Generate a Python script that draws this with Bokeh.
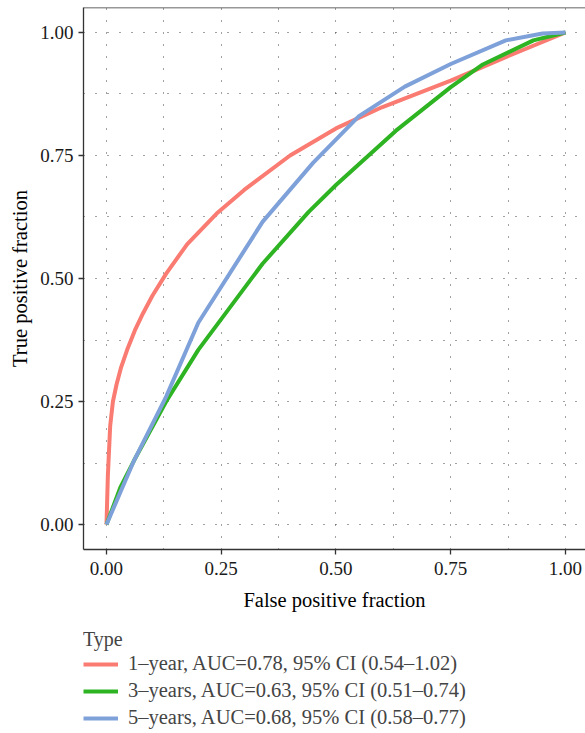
from bokeh.plotting import figure
from bokeh.layouts import column
from bokeh.models import Range1d, FixedTicker, Legend, LegendItem, Span
from bokeh.embed import file_html
from bokeh.resources import INLINE

# ROC curves
fpr_1y = [0.0, 0.003, 0.008, 0.014, 0.022, 0.032, 0.045, 0.062, 0.08, 0.1, 0.13, 0.176, 0.24, 0.3, 0.4, 0.5, 0.6, 0.75, 0.87, 1.0]
tpr_1y = [0.0, 0.10, 0.20, 0.25, 0.285, 0.32, 0.355, 0.395, 0.43, 0.465, 0.51, 0.57, 0.632, 0.68, 0.75, 0.805, 0.848, 0.902, 0.95, 1.0]

fpr_3y = [0.0, 0.03, 0.06, 0.13, 0.2, 0.34, 0.44, 0.5, 0.63, 0.75, 0.82, 0.93, 1.0]
tpr_3y = [0.0, 0.075, 0.13, 0.25, 0.355, 0.53, 0.635, 0.69, 0.80, 0.889, 0.935, 0.984, 1.0]

fpr_5y = [0.0, 0.03, 0.06, 0.13, 0.2, 0.34, 0.45, 0.55, 0.65, 0.75, 0.87, 0.95, 1.0]
tpr_5y = [0.0, 0.065, 0.13, 0.26, 0.41, 0.615, 0.735, 0.83, 0.89, 0.936, 0.984, 0.998, 1.0]

series_labels = [
    "1\u2013year, AUC=0.78, 95% CI (0.54\u20131.02)",
    "3\u2013years, AUC=0.63, 95% CI (0.51\u20130.74)",
    "5\u2013years, AUC=0.68, 95% CI (0.58\u20130.77)",
]
series_colors = ["#FA7B72", "#2EB422", "#7FA1DA"]
legend_title = "Type"

tick_values = [0.0, 0.25, 0.5, 0.75, 1.0]
tick_labels = ["0.00", "0.25", "0.50", "0.75", "1.00"]
minor_values = [0.125, 0.375, 0.625, 0.875]

FONT = "Liberation Serif"
fprs = [fpr_1y, fpr_3y, fpr_5y]
tprs = [tpr_1y, tpr_3y, tpr_5y]

# ---------------- main ROC panel ----------------
p = figure(
    frame_width=502, frame_height=542,
    x_range=Range1d(-0.0501, 1.0436), y_range=Range1d(-0.0508, 1.0508),
    output_backend="svg", toolbar_location=None,
    min_border_left=83, min_border_right=0, min_border_top=7, min_border_bottom=70,
)
p.outline_line_color = None
p.background_fill_color = "white"
p.border_fill_color = "white"

for ax in (p.xaxis[0], p.yaxis[0]):
    ax.ticker = FixedTicker(ticks=tick_values, minor_ticks=minor_values)
    ax.major_label_overrides = {v: l for v, l in zip(tick_values, tick_labels)}
    ax.major_label_text_font = FONT
    ax.major_label_text_font_size = "19px"
    ax.major_label_text_color = "#1a1a1a"
    ax.axis_label_text_font = FONT
    ax.axis_label_text_font_size = "20.5px"
    ax.axis_label_text_font_style = "normal"
    ax.axis_label_text_color = "black"
    ax.axis_line_color = "#333333"
    ax.axis_line_width = 1.3
    ax.major_tick_line_color = "#333333"
    ax.major_tick_line_width = 1.3
    ax.major_tick_out = 5
    ax.major_tick_in = 0
    ax.minor_tick_line_color = None

p.xaxis.major_label_standoff = 7
p.yaxis.major_label_standoff = 5
p.xaxis.axis_label = "False positive fraction"
p.yaxis.axis_label = "True positive fraction"
p.xaxis.axis_label_standoff = 11
p.yaxis.axis_label_standoff = 6

for g in (p.xgrid[0], p.ygrid[0]):
    g.ticker = FixedTicker(ticks=tick_values, minor_ticks=minor_values)
    g.grid_line_color = "#444444"
    g.grid_line_dash = "1 11"
    g.grid_line_width = 1
    g.minor_grid_line_color = "#444444"
    g.minor_grid_line_dash = "1 11"
    g.minor_grid_line_width = 1

p.add_layout(Span(location=1.0508, dimension="width", line_color="#333333", line_width=1.3))

for fx, ty, col in zip(fprs, tprs, series_colors):
    p.line(fx, ty, line_color=col, line_width=4)

# ---------------- legend panel (below) ----------------
p2 = figure(
    width=585, height=114, x_range=Range1d(10, 11), y_range=Range1d(10, 11),
    output_backend="svg", toolbar_location=None,
    x_axis_location=None, y_axis_location=None,
    min_border_left=0, min_border_right=0, min_border_top=0, min_border_bottom=0,
)
p2.outline_line_color = None
p2.grid.visible = False
p2.background_fill_color = "white"
p2.border_fill_color = "white"

items = []
for fx, ty, lab, col in zip(fprs, tprs, series_labels, series_colors):
    r = p2.line(fx, ty, line_color=col, line_width=4)
    items.append(LegendItem(label=lab, renderers=[r]))

legend = Legend(
    items=items, title=legend_title, location=(0, 4), orientation="vertical",
    title_text_font=FONT, title_text_font_size="20px", title_text_font_style="normal",
    title_standoff=1,
    label_text_font=FONT, label_text_font_size="20.5px",
    glyph_width=35, glyph_height=20, label_height=20, label_standoff=10,
    spacing=4, padding=0, margin=0,
    border_line_color=None, background_fill_alpha=0,
)
p2.add_layout(legend, "center")

layout = column(p, p2, spacing=0)
open("out.html", "w").write(file_html(layout, INLINE))
